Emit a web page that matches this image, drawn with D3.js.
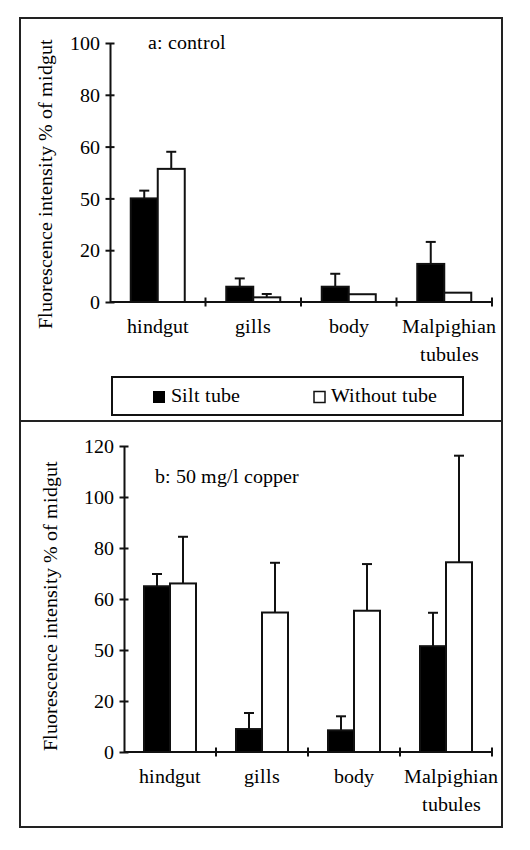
<!DOCTYPE html>
<html><head><meta charset="utf-8">
<script src="https://cdn.jsdelivr.net/npm/d3@7/dist/d3.min.js"></script>
<style>
@font-face{font-family:"RefSerif";src:local("Liberation Serif"),local("LiberationSerif"),local("LiberationSerif-Regular");}
body{margin:0;background:#fff}svg{display:block}
svg text{font-family:"RefSerif","Liberation Serif","Times New Roman",Times,serif !important;}
</style>
</head><body><svg id="c" width="530" height="850"></svg>
<script>
const categories = ["hindgut", "gills", "body", "Malpighian tubules"];
const seriesNames = ["Silt tube", "Without tube"];
// panel a: control (values read by position on the axis)
const controlSilt = [40, 5.9, 5.9, 14.7];
const controlSiltErr = [3, 3.2, 5, 8.5];
const controlWithout = [51.4, 1.8, 3.0, 3.6];
const controlWithoutErr = [6.6, 1.3, 0, 0];
// panel b: 50 mg/l copper
const copperSilt = [65, 9.0, 8.5, 41.5];
const copperSiltErr = [4.8, 6.3, 5.5, 13.1];
const copperWithout = [66.1, 54.7, 55.4, 74.4];
const copperWithoutErr = [18.3, 19.5, 18.3, 41.8];
// tick labels as printed in the figure
const tickValuesA = [0, 20, 40, 60, 80, 100];
const tickLabelsA = ["0", "20", "50", "60", "80", "100"];
const tickValuesB = [0, 20, 40, 60, 80, 100, 120];
const tickLabelsB = ["0", "20", "50", "60", "80", "100", "120"];
const titleA = "a: control";
const titleB = "b: 50 mg/l copper";
const yTitle = "Fluorescence intensity % of midgut";

const svg = d3.select("#c");
const FS = 20, FONT = "Liberation Serif";

svg.append("rect").attr("x", 20).attr("y", 18).attr("width", 482).attr("height", 403)
  .attr("fill", "none").attr("stroke", "#222").attr("stroke-width", 2);
svg.append("rect").attr("x", 20).attr("y", 421).attr("width", 482).attr("height", 406)
  .attr("fill", "none").attr("stroke", "#222").attr("stroke-width", 2);

function htext(g, x, y, str, anchor) {
  return g.append("text").attr("x", x).attr("y", y)
    .attr("text-anchor", anchor || "start").attr("font-size", FS)
    .attr("font-family", FONT).text(str);
}

function panel(o) {
  const g = svg.append("g");
  const x = d3.scaleBand().domain(categories).range([o.x0, o.x1]).paddingInner(0).paddingOuter(0);
  const y = d3.scaleLinear().domain([0, o.ymax]).range([o.y0, o.yTop]);
  const inner = d3.scaleBand().domain(seriesNames)
    .range([(x.bandwidth() - 2 * o.bw) / 2, (x.bandwidth() + 2 * o.bw) / 2]);

  const ya = g.append("g").attr("transform", `translate(${o.x0},0)`)
    .call(d3.axisLeft(y).tickValues(o.tv).tickFormat((d, i) => o.tl[i]).tickSizeOuter(0).tickSizeInner(4.5).tickPadding(6));
  ya.attr("font-family", FONT).attr("font-size", FS);
  ya.select(".domain").attr("stroke", "#111").attr("stroke-width", 2);
  ya.selectAll(".tick line").attr("x1", -4.5).attr("x2", 4.5).attr("stroke", "#111").attr("stroke-width", 2);
  ya.selectAll(".tick text").attr("font-size", FS).attr("fill", "#000").attr("dy", "0.33em");

  g.append("line").attr("x1", o.x0).attr("x2", o.x1).attr("y1", o.y0).attr("y2", o.y0)
    .attr("stroke", "#111").attr("stroke-width", 2);
  g.selectAll(".ct").data(categories.slice(1).concat(["end"])).join("line")
    .attr("x1", (d, i) => o.x0 + x.step() * (i + 1)).attr("x2", (d, i) => o.x0 + x.step() * (i + 1))
    .attr("y1", o.y0 - 4.5).attr("y2", o.y0 + 4.5).attr("stroke", "#111").attr("stroke-width", 2);

  const series = [
    {name: seriesNames[0], v: o.silt, e: o.siltErr, fill: "#000"},
    {name: seriesNames[1], v: o.without, e: o.withoutErr, fill: "#fff"}
  ];
  series.forEach(s => {
    const bx = (i) => x(categories[i]) + inner(s.name);
    categories.forEach((c, i) => {
      if (s.e[i] <= 0) return;
      const cx = bx(i) + o.bw / 2;
      g.append("line").attr("x1", cx).attr("x2", cx).attr("y1", y(s.v[i])).attr("y2", y(s.v[i] + s.e[i]))
        .attr("stroke", "#111").attr("stroke-width", 2);
      g.append("line").attr("x1", cx - 5).attr("x2", cx + 5).attr("y1", y(s.v[i] + s.e[i])).attr("y2", y(s.v[i] + s.e[i]))
        .attr("stroke", "#111").attr("stroke-width", 2);
    });
    g.selectAll(null).data(s.v).join("rect")
      .attr("x", (d, i) => bx(i)).attr("width", o.bw)
      .attr("y", d => y(d)).attr("height", d => o.y0 - y(d))
      .attr("fill", s.fill).attr("stroke", "#111").attr("stroke-width", 2);
  });

  categories.forEach((c, i) => {
    const cx = x(c) + x.bandwidth() / 2 + (i === 3 ? 5 : 0);
    const parts = c === "Malpighian tubules" ? ["Malpighian", "tubules"] : [c];
    parts.forEach((p, j) => htext(g, cx, o.y0 + 31 + j * 27.5, p, "middle"));
  });

  htext(g, o.tx, o.ty, o.title);
  g.append("text").attr("transform", `translate(${o.ytx},${o.yty}) rotate(-90)`)
    .attr("text-anchor", "middle").attr("font-size", FS).attr("font-family", FONT)
    .text(yTitle);
}

panel({x0: 110, x1: 492, y0: 302, yTop: 43, ymax: 100, bw: 27, tv: tickValuesA, tl: tickLabelsA,
  silt: controlSilt, siltErr: controlSiltErr, without: controlWithout, withoutErr: controlWithoutErr,
  title: titleA, tx: 148, ty: 49, ytx: 52, yty: 184});
panel({x0: 124, x1: 492, y0: 752, yTop: 446, ymax: 120, bw: 26, tv: tickValuesB, tl: tickLabelsB,
  silt: copperSilt, siltErr: copperSiltErr, without: copperWithout, withoutErr: copperWithoutErr,
  title: titleB, tx: 155, ty: 483, ytx: 57, yty: 606});

const lg = svg.append("g");
lg.append("rect").attr("x", 112).attr("y", 377).attr("width", 351).attr("height", 38)
  .attr("fill", "#fff").attr("stroke", "#111").attr("stroke-width", 2);
lg.append("rect").attr("x", 153).attr("y", 391).attr("width", 12).attr("height", 12).attr("fill", "#000");
htext(lg, 171, 402, seriesNames[0]);
lg.append("rect").attr("x", 314).attr("y", 391.5).attr("width", 11).attr("height", 11)
  .attr("fill", "#fff").attr("stroke", "#111").attr("stroke-width", 1.5);
htext(lg, 331, 402, seriesNames[1]);
</script></body></html>
